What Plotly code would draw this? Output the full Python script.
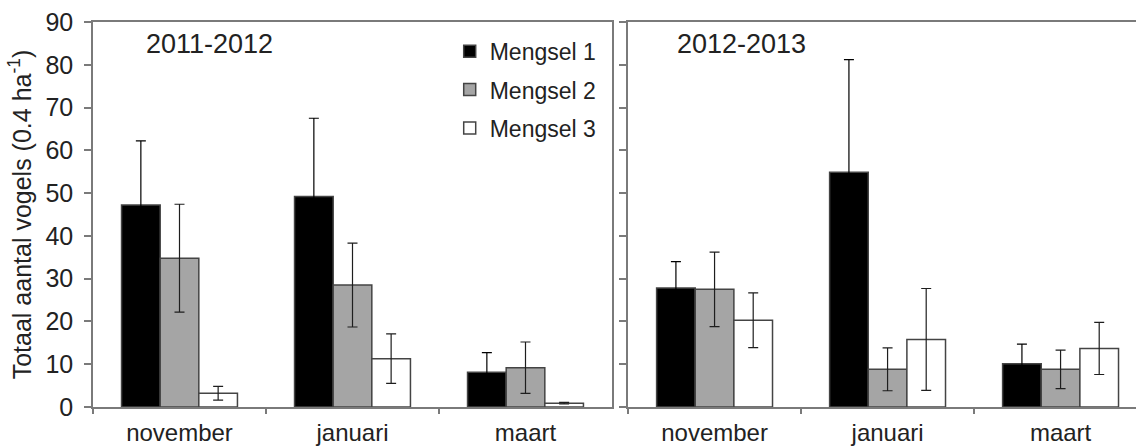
import plotly.graph_objects as go

# Maanden en gemiddelde aantallen vogels per mengsel (met standaardfout)
months = ["november", "januari", "maart"]
series_names = ["Mengsel 1", "Mengsel 2", "Mengsel 3"]

m1_2011 = [47.2, 49.2, 8.1]
m1_2011_err = [15.0, 18.3, 4.6]
m2_2011 = [34.8, 28.5, 9.2]
m2_2011_err = [12.6, 9.8, 6.0]
m3_2011 = [3.2, 11.3, 0.9]
m3_2011_err = [1.6, 5.8, 0.2]

m1_2012 = [27.8, 54.9, 10.1]
m1_2012_err = [6.2, 26.3, 4.6]
m2_2012 = [27.5, 8.8, 8.8]
m2_2012_err = [8.7, 5.0, 4.5]
m3_2012 = [20.3, 15.8, 13.7]
m3_2012_err = [6.4, 11.9, 6.1]

season_labels = ["2011-2012", "2012-2013"]
y_title = "Totaal aantal vogels (0.4 ha<sup>-1</sup>)"

fills = ["#000000", "#a5a5a5", "#ffffff"]
err_colors = ["#000000", "#1e1e1e", "#1e1e1e"]
FONT = "Liberation Sans, Arial, sans-serif"
TEXT = "#222222"
AXIS = "#7a7a7a"

fig = go.Figure()

panels = [
    ("x", "y", [m1_2011, m2_2011, m3_2011], [m1_2011_err, m2_2011_err, m3_2011_err], True),
    ("x2", "y2", [m1_2012, m2_2012, m3_2012], [m1_2012_err, m2_2012_err, m3_2012_err], False),
]
for xa, ya, vals, errs, show in panels:
    for name, v, e, c, ec in zip(series_names, vals, errs, fills, err_colors):
        fig.add_trace(go.Bar(
            x=months, y=v, name=name, xaxis=xa, yaxis=ya,
            showlegend=show, legendgroup=name,
            marker=dict(color=c, line=dict(color="#444444", width=1.5)),
            error_y=dict(type="data", array=e, visible=True,
                         color=ec, thickness=1.2, width=5),
        ))

axis_common = dict(showline=True, linecolor=AXIS, linewidth=1.5,
                   showgrid=False, zeroline=False, ticks="outside",
                   tickcolor=AXIS, tickwidth=1.5)

fig.update_layout(
    width=1136, height=448,
    margin=dict(l=93, r=0, t=22, b=41),
    paper_bgcolor="white", plot_bgcolor="white",
    barmode="group", bargap=0.33, bargroupgap=0,
    font=dict(family=FONT, size=24, color=TEXT),
    xaxis=dict(domain=[0, 0.4976], type="category", range=[-0.5, 2.5],
               tickson="boundaries", ticklen=5, mirror=True,
               ticklabelstandoff=3,
               tickfont=dict(size=24, color=TEXT), anchor="y", **axis_common),
    yaxis=dict(domain=[0, 1], range=[0, 90], dtick=10, ticklen=7,
               mirror=True, anchor="x", ticklabelstandoff=6,
               tickfont=dict(size=25, color=TEXT),
               title=dict(text=y_title, font=dict(size=25, color=TEXT), standoff=7),
               **axis_common),
    xaxis2=dict(domain=[0.513, 1], type="category", range=[-0.5, 2.436],
                tickson="boundaries", ticklen=5, mirror=True,
                ticklabelstandoff=3,
                tickfont=dict(size=24, color=TEXT), anchor="y2", **axis_common),
    yaxis2=dict(domain=[0, 1], range=[0, 90], dtick=10, ticklen=7,
                showticklabels=False, anchor="x2", **axis_common),
    legend=dict(x=0.342, y=0.98, xanchor="left", yanchor="top",
                font=dict(size=23, color=TEXT), bgcolor="rgba(0,0,0,0)",
                itemwidth=30, tracegroupgap=5.5, traceorder="grouped"),
    showlegend=True,
)

fig.add_annotation(text=season_labels[0], xref="x domain", yref="y domain",
                   x=0.225, y=0.943, xanchor="center", yanchor="middle",
                   showarrow=False, font=dict(size=27, color=TEXT))
fig.add_annotation(text=season_labels[1], xref="x2 domain", yref="y2 domain",
                   x=0.224, y=0.943, xanchor="center", yanchor="middle",
                   showarrow=False, font=dict(size=27, color=TEXT))

fig.write_html("out.html")
